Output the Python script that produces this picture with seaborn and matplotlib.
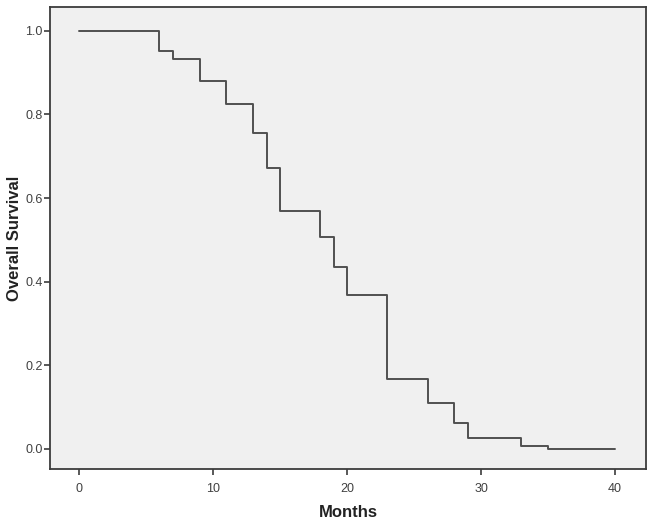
import matplotlib
matplotlib.use("Agg")
import matplotlib.pyplot as plt
import pandas as pd
import seaborn as sns

# Kaplan-Meier style step data (months, overall survival)
months = [0, 6, 7, 9, 11, 13, 14, 15, 18, 19, 20, 23, 26, 28, 29, 33, 35, 40]
survival = [1.0, 0.952, 0.933, 0.881, 0.824, 0.755, 0.671, 0.569, 0.508,
            0.436, 0.367, 0.167, 0.109, 0.063, 0.027, 0.007, 0.0, 0.0]
x_ticks = [0, 10, 20, 30, 40]
y_ticks = [0.0, 0.2, 0.4, 0.6, 0.8, 1.0]

df = pd.DataFrame({"Months": months, "Overall Survival": survival})

sns.set_style("ticks")
plt.rcParams["font.family"] = ["Liberation Sans", "DejaVu Sans"]

fig = plt.figure(figsize=(6.53, 5.26), dpi=100)
ax = fig.add_axes([0.0766, 0.1084, 0.9127, 0.8783])
ax.set_facecolor("#f0f0f0")

sns.lineplot(data=df, x="Months", y="Overall Survival", ax=ax,
             drawstyle="steps-post", color="#505050", linewidth=1.4,
             estimator=None, sort=False)

ax.set_xlim(-2.16, 42.3)
ax.set_ylim(-0.048, 1.057)
ax.set_xticks(x_ticks)
ax.set_yticks(y_ticks)
ax.set_yticklabels([f"{v:.1f}" for v in y_ticks])

for side in ["left", "bottom", "right", "top"]:
    ax.spines[side].set_visible(True)
    ax.spines[side].set_color("#3c3c3c")
    ax.spines[side].set_linewidth(1.3)

ax.tick_params(axis="both", direction="out", length=4.5, width=1.2,
               color="#3c3c3c", labelsize=9, labelcolor="#404040")
ax.tick_params(axis="y", pad=0.8)
ax.tick_params(axis="x", pad=5.5)

ax.set_xlabel("Months", fontsize=12, fontweight="bold", color="#222222", va="center")
ax.set_ylabel("Overall Survival", fontsize=12, fontweight="bold", color="#222222", va="center")
ax.xaxis.set_label_coords(0.5, -0.095)
ax.yaxis.set_label_coords(-0.059, 0.5)

plt.savefig("out.png", dpi=100)
